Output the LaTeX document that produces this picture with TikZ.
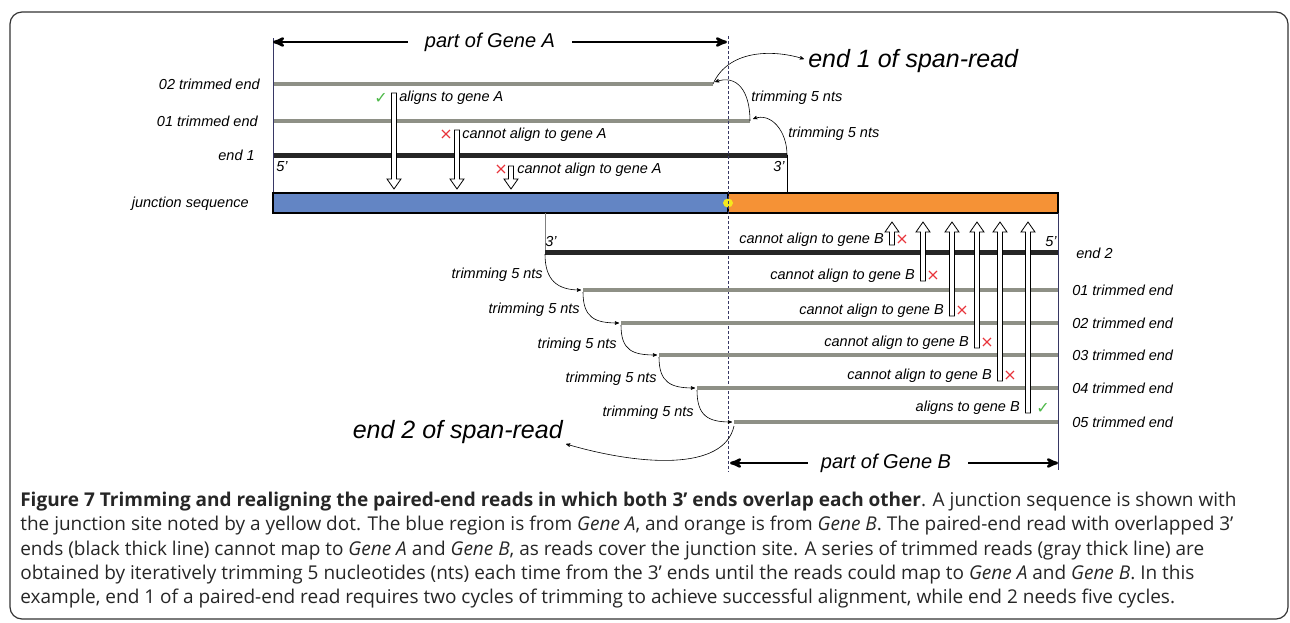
\documentclass[tikz,border=0pt]{standalone}
\usepackage{fontspec}
\setmainfont{Liberation Sans}
\newfontfamily\capfont{Open Sans}
\newfontfamily\symfont{DejaVu Sans}
\usetikzlibrary{arrows,positioning}

\definecolor{geneA}{RGB}{99,133,196}
\definecolor{geneB}{RGB}{245,146,54}
\definecolor{trimgray}{RGB}{142,144,134}
\definecolor{okgreen}{RGB}{77,184,72}
\definecolor{badred}{RGB}{232,51,58}
\definecolor{navy}{RGB}{55,55,100}
\definecolor{jdot}{RGB}{245,232,30}

% open block arrow: x, tail y, tip y, y of head base
\newcommand\openarrow[4]{%
  \draw[fill=white,line width=0.8pt,line join=miter]
    (#1-2.5,#2) -- (#1-2.5,#4) -- (#1-7,#4) -- (#1,#3)
    -- (#1+7,#4) -- (#1+2.5,#4) -- (#1+2.5,#2) -- cycle;}

\begin{document}
\begin{tikzpicture}[>=stealth',x=1pt,y=-1pt,semithick]
\tikzstyle{lbl}=[font=\fontsize{14.5}{16}\selectfont\itshape,inner sep=0pt]
\tikzstyle{big}=[font=\fontsize{25}{28}\selectfont\itshape,inner sep=0pt]
\tikzstyle{gene}=[font=\fontsize{20}{22}\selectfont\itshape,inner sep=0pt]
\tikzstyle{trim}=[draw=trimgray,line width=4.5pt]
\tikzstyle{raw}=[draw=black!85,line width=5pt]
\tikzstyle{tick}=[font=\symfont\fontsize{16}{17}\selectfont,inner sep=0pt]
\tikzstyle{bigarrow}=[line width=2.6pt]
\useasboundingbox (0,0) rectangle (1290,622);
\draw[line width=1.2pt,rounded corners=12pt,black!80] (10,12) rectangle (1288,619);

% gene A side, end 1
\coordinate (a2s) at (273,84);  \coordinate (a2e) at (713,84);
\coordinate (a1s) at (273,121); \coordinate (a1e) at (750,121);
\coordinate (e1s) at (273,155); \coordinate (e1e) at (787,155);
\draw[trim] (a2s) -- (a2e);
\draw[trim] (a1s) -- (a1e);
\draw[raw] (e1s) -- (e1e);
\draw[thin] (e1e) -- (787,193);
\draw[thin,navy] (273,38) -- (273,193);
\node[lbl,anchor=east] (l2) at (260,84) {02 trimmed end};
\node[lbl,anchor=east] (l1) at (258,121) {01 trimmed end};
\node[lbl,anchor=east] (le1) at (255,155) {end 1};
\node[lbl,anchor=east] (lj) at (249,204) {junction sequence};
\node[lbl,anchor=west] at (276,167) {5'};
\node[lbl] at (779,167) {3'};

\node[gene] (gA) at (490,42) {part of Gene A};
\draw[<-,bigarrow] (273,42) -- ([xshift=-17pt]gA.west);
\draw[->,bigarrow] ([xshift=17pt]gA.east) -- (727,42);

\node[big,anchor=west] (s1) at (808,61) {end 1 of span-read};
\draw[->] (a2e) .. controls +(15,-34) and +(-32,-10) .. ([xshift=-4pt,yshift=2pt]s1.west);
\draw[->] (a1e) .. controls +(0,-30) and +(22,-8) .. ([xshift=2pt,yshift=2pt]a2e);
\node[lbl,anchor=west] at (751,98) {trimming 5 nts};
\draw[->] (e1e) .. controls +(0,-24) and +(18,-7) .. ([xshift=3pt,yshift=2pt]a1e);
\node[lbl,anchor=west] at (788,134) {trimming 5 nts};

% junction sequence
\fill[geneA] (273,193) rectangle (728,213);
\fill[geneB] (728,193) rectangle (1058,213);
\draw[line width=2.5pt] (273,193) rectangle (1058,213);
\draw[line width=1.5pt] (728,193) -- (728,213);
\fill[jdot] (728,203) ellipse (5 and 4.5);
\draw[thin,densely dashed,navy] (728,36) -- (728,472);

% gene B side, end 2
\coordinate (b0) at (545,252);
\draw[thin,gray] (545,213) -- (b0);
\draw[raw] (b0) -- (1058,252);
\node[lbl] at (551,242) {3'};
\node[lbl] at (1051,242) {5'};
\node[lbl,anchor=west] (le2) at (1076,253) {end 2};
\foreach \i/\x/\y/\t/\tx/\ty in {1/583/290/trimming/543/275, 2/621/323/trimming/580/310,
    3/659/355/triming/617/345, 4/697/388/trimming/657/379, 5/734/422/trimming/694/413} {
  \pgfmathtruncatemacro\j{\i-1}
  \coordinate (b\i) at (\x,\y);
  \draw[trim] (b\i) -- (1058,\y);
  \node[lbl,anchor=west] (lb\i) at (1072,\y) {0\i\ trimmed end};
  \draw[->] ([yshift=-2pt]b\j) .. controls +(0,26) and +(-24,0) .. ([xshift=-2pt]b\i);
  \node[lbl,anchor=east] at (\tx,\ty) {\t\ 5 nts};
}
\draw[thin,navy] (1058,213) -- (1058,470);

\node[big,anchor=east] (s2) at (563,432) {end 2 of span-read};
\draw[->] ([yshift=-4pt]b5) .. controls +(-10,45) and +(75,22) .. ([xshift=3pt,yshift=-12pt]s2.east);

\node[gene] (gB) at (886,463) {part of Gene B};
\draw[<-,bigarrow] (730,463) -- ([xshift=-13pt]gB.west);
\draw[->,bigarrow] ([xshift=17pt]gB.east) -- (1058,463);

% alignment tests against gene A
\node[tick,okgreen] at (381,98) {✓};
\node[lbl,anchor=west] at (399,98) {aligns to gene A};
\openarrow{394}{93}{189}{179}
\node[tick,badred] at (446,135) {×};
\node[lbl,anchor=west] at (462,135) {cannot align to gene A};
\openarrow{457}{130}{189}{179}
\node[tick,badred] at (501,170) {×};
\node[lbl,anchor=west] at (517,170) {cannot align to gene A};
\openarrow{511}{166}{189}{179}

% alignment tests against gene B
\foreach \x/\y in {892/240, 923/276, 952/311, 977/343, 1000/376} {
  \node[lbl,anchor=east] at (\x-8,\y) {cannot align to gene B};
  \node[tick,badred] at (\x+10,\y) {×};
  \openarrow{\x}{\y+5}{222}{232}
}
\node[lbl,anchor=east] at (1020,408) {aligns to gene B};
\node[tick,okgreen] at (1043,408) {✓};
\openarrow{1028}{413}{222}{232}

% caption
\node[anchor=north west,inner sep=0pt,align=left,text=black!85,
  font=\capfont\fontsize{19}{24.2}\selectfont] (cap) at (20,492)
 {\textbf{Figure 7 Trimming and realigning the paired-end reads in which both 3’ ends overlap each other}. A junction sequence is shown with\\
 the junction site noted by a yellow dot. The blue region is from \textit{Gene A}, and orange is from \textit{Gene B}. The paired-end read with overlapped 3’\\
 ends (black thick line) cannot map to \textit{Gene A} and \textit{Gene B}, as reads cover the junction site. A series of trimmed reads (gray thick line) are\\
 obtained by iteratively trimming 5 nucleotides (nts) each time from the 3’ ends until the reads could map to \textit{Gene A} and \textit{Gene B}. In this\\
 example, end 1 of a paired-end read requires two cycles of trimming to achieve successful alignment, while end 2 needs five cycles.};
\end{tikzpicture}
\end{document}
